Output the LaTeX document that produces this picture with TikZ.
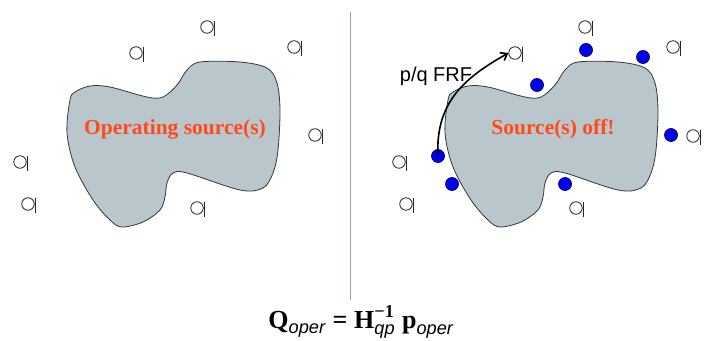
\documentclass[tikz,border=0pt]{standalone}
\usepackage{amsmath}
\usepackage{fontspec}
\setmainfont{Liberation Serif}
\setsansfont{Liberation Sans}
\usetikzlibrary{arrows.meta}
\definecolor{blobfill}{RGB}{185,199,204}
\definecolor{blobline}{RGB}{50,55,58}
\definecolor{redtxt}{RGB}{255,74,28}
\definecolor{divider}{RGB}{144,164,184}
\definecolor{dotblue}{RGB}{0,0,240}
\definecolor{dotline}{RGB}{0,0,110}
\tikzset{
  mic/.style={circle, draw=black!85, line width=0.8pt, minimum size=12.5pt, inner sep=0pt},
  micline/.style={draw=black!85, line width=0.9pt},
  sensor/.style={circle, draw=dotline, fill=dotblue, line width=0.7pt, minimum size=13pt, inner sep=0pt},
  blob/.style={fill=blobfill, draw=blobline, line width=0.8pt},
  redlabel/.style={text=redtxt, font=\fontsize{21.5}{23}\selectfont\bfseries},
}
\newcommand\blobshape{plot[smooth cycle, tension=0.55] coordinates {
 (90,86) (110,87) (147,97) (163,97) (177,85) (187,70) (200,62) (240,62) (267,68) (277,83)
 (280,110) (278,150) (273,173) (263,188) (240,190) (187,173) (173,173) (167,183) (165,197)
 (160,210) (143,222) (122,227) (110,220) (93,200) (75,167) (67,133) (70,100) (75,92)}}
\begin{document}
\begin{tikzpicture}[x=1pt,y=-1pt]
\useasboundingbox (0,0) rectangle (712,340);
% divider
\draw[divider, line width=1.2pt] (350.5,12) coordinate (dtop) -- (350.5,300) coordinate (dbot);
% left blob
\path[blob] \blobshape;
\node[redlabel] (lt) at (175,129) {Operating source(s)};
% right blob
\begin{scope}[xshift=378pt]
\path[blob] \blobshape;
\end{scope}
\node[redlabel] (rt) at (553,129) {Source(s) off!};
% microphones
\foreach \n/\x/\y in {ma/207/27, mb/136/53, mc/294/47, md/315/135, me/20/162, mf/28/204, mg/197/208,
                      ra/585/27, rb/515/53, rc/673/47, rd/693/136, re/399/162, rf/406/204, rg/576/208}{
  \node[mic] (\n) at (\x,\y) {};
  \draw[micline] ([xshift=0.6pt,yshift=6.5pt]\n.east) -- ([xshift=0.6pt,yshift=-8.5pt]\n.east);
}
% sensors
\foreach \n/\x/\y in {sa/586/50, sb/643/57, sc/537/85, sd/671/135, se/438/156, sf/452/184, sg/565/184}{
  \node[sensor] (\n) at (\x,\y) {};
}
% FRF arrow
\draw[line width=1.6pt, -{Straight Barb[length=6pt,width=9pt]}] (se.center) .. controls (435,100) and (468,76) .. (rb.west);
\node[font=\sffamily\fontsize{20}{22}\selectfont] (frf) at (436,76) {p/q FRF};
% equation
\node[anchor=base, inner sep=0pt] (eq) at (361,328) {\fontsize{26}{28}\selectfont
  $\text{\bfseries Q}_{\text{\sffamily\itshape oper}}\;\text{\bfseries =}\;
   \text{\bfseries H}^{\text{\bfseries −1}}_{\text{\sffamily\itshape qp}}\;
   \text{\bfseries p}_{\text{\sffamily\itshape oper}}$};
\end{tikzpicture}
\end{document}
